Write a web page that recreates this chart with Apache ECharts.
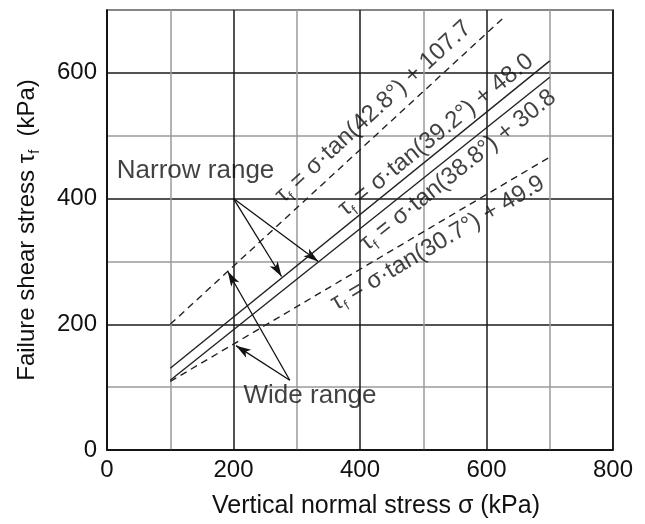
<!DOCTYPE html>
<html><head><meta charset="utf-8">
<script src="https://cdn.jsdelivr.net/npm/echarts@6/dist/echarts.min.js"></script>
<style>html,body{margin:0;padding:0;background:#fff}#c{width:645px;height:524px}</style>
</head><body><div id="c"></div>
<script>
// ---- data ----
const xMin = 0, xMax = 800, xStep = 100;
const yMin = 0, yMax = 700, yStep = 100;
const xTickLabels = [0, 200, 400, 600, 800];
const yTickLabels = [0, 200, 400, 600];
// failure envelopes (σ, τf) endpoints
const line428 = [[100, 200], [625, 686]];   // dashed, tan(42.8°) + 107.7
const line392 = [[100, 130], [700, 619]];   // solid,  tan(39.2°) + 48.0
const line388 = [[100, 111], [700, 593]];   // solid,  tan(38.8°) + 30.8
const line307 = [[100, 109], [700, 466]];   // dashed, tan(30.7°) + 49.9
const eqTexts = [
  '{t|τ}{s|f} = σ·tan(42.8°) + 107.7',
  '{t|τ}{s|f} = σ·tan(39.2°) + 48.0',
  '{t|τ}{s|f} = σ·tan(38.8°) + 30.8',
  '{t|τ}{s|f} = σ·tan(30.7°) + 49.9'
];
const eqAnchors = [[421, 538], [520, 501], [555, 445], [523, 329]];
const eqAngles = [42.6, 39.0, 38.6, 30.5];
// annotation arrows: [tail, tip]
const narrowArrows = [[[200, 400], [276, 276]], [[200, 400], [334, 300]]];
const wideArrows = [[[289, 111], [191, 284]], [[289, 111], [204, 166]]];
const annoTexts = ['Narrow range', 'Wide range'];
const annoAnchors = [[140, 444], [321, 86]];

// ---- chart ----
const FONT = 'Liberation Sans, Arial, sans-serif';
const INK = '#111';
const chart = echarts.init(document.getElementById('c'), null, {renderer: 'canvas'});
const richSub = {
  t: {fontSize: 24, fontFamily: FONT, color: INK},
  s: {fontSize: 14, fontFamily: FONT, color: INK, verticalAlign: 'bottom', lineHeight: 14, padding: [0, 0, -3, 0]}
};
function envelope(data, dashed) {
  return {
    type: 'line', data: data, symbol: 'none', silent: true,
    lineStyle: {color: '#222', width: 1.4, type: dashed ? [7, 5] : 'solid'},
    z: 5
  };
}
function arrows(list) {
  return {
    type: 'line', data: [], silent: true,
    markLine: {
      silent: true, symbol: ['none', 'arrow'], symbolSize: [7, 15],
      label: {show: false},
      lineStyle: {color: '#111', width: 1.3, type: 'solid'},
      emphasis: {disabled: true},
      data: list.map(a => [{coord: a[0]}, {coord: a[1]}])
    }
  };
}
const option = {
  animation: false,
  backgroundColor: '#fff',
  grid: {left: 107, right: 32, top: 10, bottom: 74, show: true, borderColor: '#111', borderWidth: 1.6, backgroundColor: 'transparent'},
  xAxis: {
    type: 'value', min: xMin, max: xMax, interval: xStep,
    name: 'Vertical normal stress σ (kPa)', nameLocation: 'middle', nameGap: 44,
    nameTextStyle: {fontSize: 25, fontFamily: FONT, color: INK, padding: [0, 0, 0, 32]},
    axisLine: {show: true, lineStyle: {color: '#111', width: 1.6}},
    axisTick: {show: false},
    axisLabel: {fontSize: 24, fontFamily: FONT, color: INK, margin: 8,
      formatter: v => xTickLabels.indexOf(v) >= 0 ? String(v) : ''},
    splitLine: {show: true, lineStyle: {color: ['#1a1a1a', '#9a9a9a'], width: 1.5}}
  },
  yAxis: {
    type: 'value', min: yMin, max: yMax, interval: yStep,
    name: 'Failure shear stress {t|τ}{s|f}  (kPa)', nameLocation: 'middle', nameGap: 68,
    nameTextStyle: {fontSize: 24, fontFamily: FONT, color: INK, rich: richSub},
    axisLine: {show: true, lineStyle: {color: '#111', width: 1.6}},
    axisTick: {show: false},
    axisLabel: {fontSize: 24, fontFamily: FONT, color: INK, margin: 10,
      formatter: v => yTickLabels.indexOf(v) >= 0 ? String(v) : ''},
    splitLine: {show: true, lineStyle: {color: ['#1a1a1a', '#9a9a9a'], width: 1.5}}
  },
  series: [
    envelope(line428, true),
    envelope(line392, false),
    envelope(line388, false),
    envelope(line307, true),
    arrows(narrowArrows),
    arrows(wideArrows),
    {
      type: 'scatter', silent: true, symbolSize: 1, itemStyle: {color: 'rgba(0,0,0,0)'}, z: 10,
      data: eqAnchors.map((p, i) => ({
        value: p,
        label: {show: true, position: 'inside', rotate: eqAngles[i], formatter: eqTexts[i],
          fontSize: 24, fontFamily: FONT, color: INK, align: 'center', verticalAlign: 'middle', rich: richSub}
      }))
    },
    {
      type: 'scatter', silent: true, symbolSize: 1, itemStyle: {color: 'rgba(0,0,0,0)'}, z: 10,
      data: annoAnchors.map((p, i) => ({
        value: p,
        label: {show: true, position: 'inside', formatter: annoTexts[i],
          fontSize: 26, fontFamily: FONT, color: INK, align: 'center', verticalAlign: 'middle'}
      }))
    }
  ]
};
chart.setOption(option);
</script>
</body></html>
